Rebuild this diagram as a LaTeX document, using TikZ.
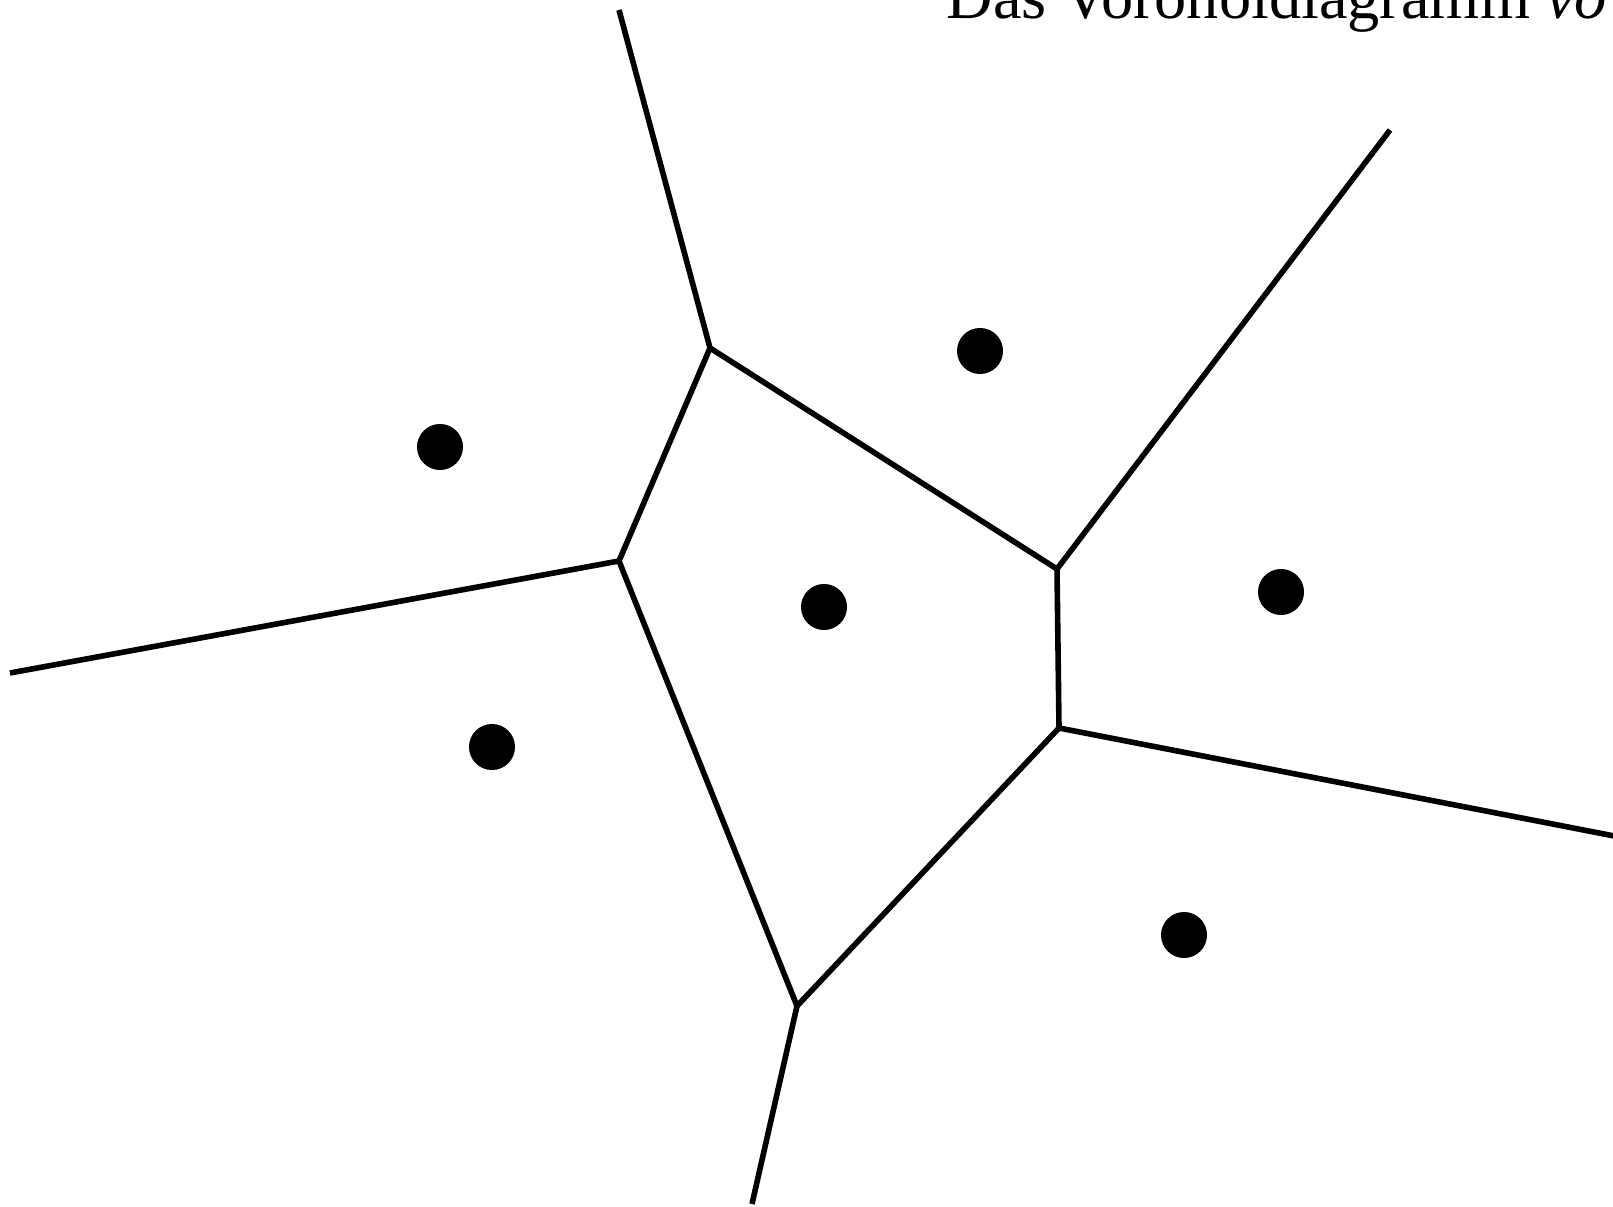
\documentclass[tikz,border=0pt]{standalone}
\usepackage{fontspec}
\setmainfont{Liberation Serif}
\usepackage{tikz}
\usetikzlibrary{positioning}
\tikzset{
  site/.style  ={draw=none, circle, fill=black, minimum size=0.46cm, inner sep=0pt},
  vedge/.style ={line width=0.056cm, black},
  ttl/.style   ={anchor=base west, inner sep=0pt, font=\fontsize{18.3pt}{20pt}\selectfont},
}

\begin{document}
\begin{tikzpicture}[x=0.01cm, y=-0.01cm]
  \useasboundingbox (0,0) rectangle (1613,1207);
  \clip (0,0) rectangle (1613,1207);

  % title, cut at the page edge
  \node[ttl] (title) at (946,19) {Das Voronoidiagramm \textit{vo}};

  % Voronoi vertices
  \coordinate (v1) at (710,348);
  \coordinate (v2) at (619,561);
  \coordinate (v3) at (797,1006);
  \coordinate (v4) at (1059,728);
  \coordinate (v5) at (1057,569);
  % free ends of the unbounded edges
  \coordinate (eTop)   at (619,10);
  \coordinate (eLeft)  at (10,673);
  \coordinate (eBot)   at (752,1204);
  \coordinate (eRight) at (1640,841);
  \coordinate (eTR)    at (1390,130);

  % sites
  \node[site] (s1) at (440,447) {};
  \node[site] (s2) at (980,351) {};
  \node[site] (s3) at (824,607) {};
  \node[site] (s4) at (1281,592) {};
  \node[site] (s5) at (492,747) {};
  \node[site] (s6) at (1184,935) {};

  % bounded edges
  \draw[vedge] (v1) -- (v2);
  \draw[vedge] (v2) -- (v3);
  \draw[vedge] (v3) -- (v4);
  \draw[vedge] (v4) -- (v5);
  \draw[vedge] (v5) -- (v1);
  % unbounded edges
  \draw[vedge] (v1) -- (eTop);
  \draw[vedge] (v2) -- (eLeft);
  \draw[vedge] (v3) -- (eBot);
  \draw[vedge] (v4) -- (eRight);
  \draw[vedge] (v5) -- (eTR);
\end{tikzpicture}
\end{document}
